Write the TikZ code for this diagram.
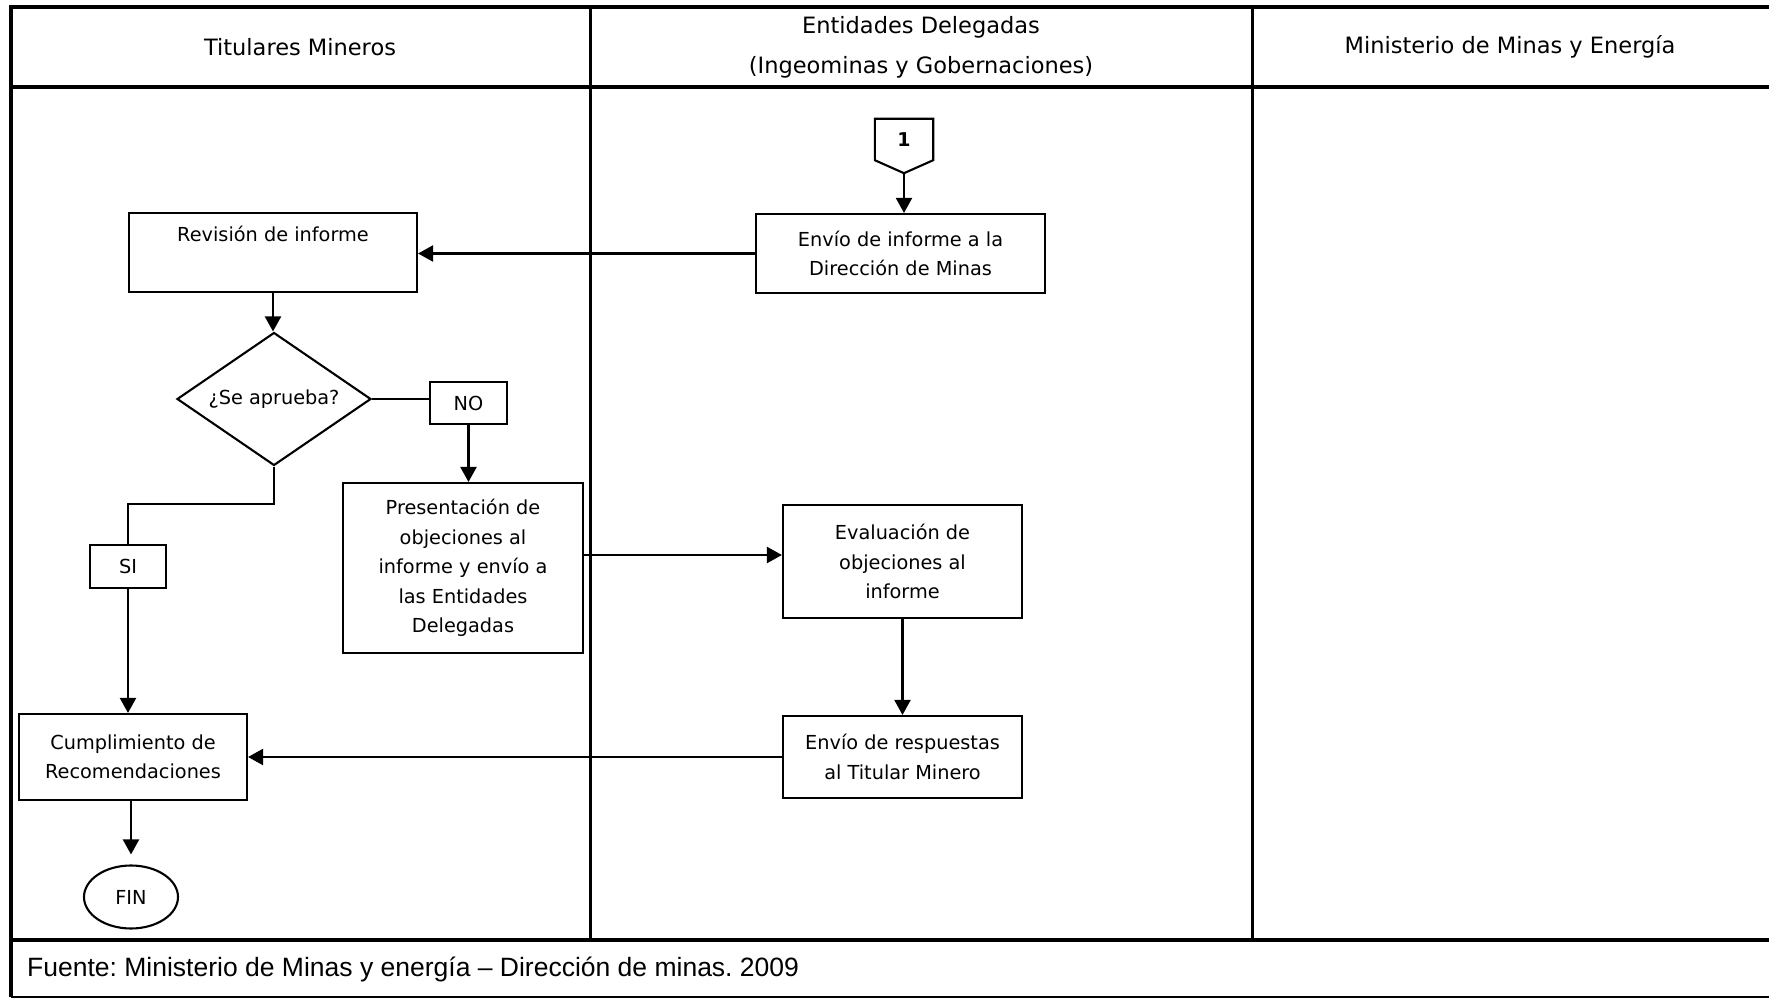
\documentclass[tikz,border=0pt]{standalone}
\usepackage{fontspec}
\setmainfont{DejaVu Sans}
\newfontfamily\footfont{Liberation Sans}
\usetikzlibrary{shapes.geometric,arrows.meta,calc}
\frenchspacing

\begin{document}
\begin{tikzpicture}[x=1pt,y=-1pt,
  outer/.style={line width=3.5pt},
  thinedge/.style={line width=2pt},
  lanetitle/.style={inner sep=0pt,align=center,font=\fontsize{22.5}{40}\selectfont},
  proc/.style={draw,line width=2.1pt,inner sep=0pt,align=center,font=\fontsize{19.3}{29.5}\selectfont},
  decision/.style={proc,diamond},
  terminal/.style={proc,ellipse},
  arr/.style={line width=2.1pt,-{Triangle[length=15pt,width=16pt]}},
  link/.style={line width=2.1pt}]
\useasboundingbox (0,0) rectangle (1769,1000);

% swimlane frame
\draw[outer] (1769,7) -- (11,7) -- (11,997);
\draw[outer] (11,87) -- (1769,87);
\draw[outer] (11,940) -- (1769,940);
\draw[thinedge] (11,997) -- (1769,997);
\draw[line width=3pt] (590,7) -- (590,940);
\draw[line width=3pt] (1252,7) -- (1252,940);

% lane titles
\node[lanetitle] (h1) at (300,47) {Titulares Mineros};
\node[lanetitle] (h2) at (921,47) {Entidades Delegadas\\(Ingeominas y Gobernaciones)};
\node[lanetitle] (h3) at (1510,47) {Ministerio de Minas y Energía};

% off-page connector
\node[inner sep=0pt,minimum width=58pt,minimum height=41pt,font=\fontsize{19}{24}\bfseries] (c1) at (904,139.5) {1};
\coordinate (c1tip) at ($(c1.south)+(0,13)$);
\draw[link,line join=miter] (c1.north west) -- (c1.north east) -- (c1.south east) -- (c1tip) -- (c1.south west) -- cycle;

% process steps
\node[proc,minimum width=289pt,minimum height=79pt] (envio) at (900.5,253.5) {Envío de informe a la\\Dirección de Minas};
\node[proc,minimum width=288pt,minimum height=79pt] (rev) at (273,252.5) {Revisión de informe\\\strut};
\node[decision,minimum width=194pt,minimum height=133pt,aspect=1.46] (dia) at (274,399) {\raisebox{-5pt}{¿Se aprueba?}};
\node[proc,minimum width=77pt,minimum height=42pt] (no) at (468.5,403) {NO};
\node[proc,minimum width=240pt,minimum height=170pt] (pres) at (463,568) {Presentación de\\objeciones al\\informe y envío a\\las Entidades\\Delegadas};
\node[proc,minimum width=76pt,minimum height=43pt] (si) at (128,566.5) {SI};
\node[proc,minimum width=239pt,minimum height=113pt] (ev) at (902.5,561.5) {Evaluación de\\objeciones al\\informe};
\node[proc,minimum width=239pt,minimum height=82pt] (resp) at (902.5,757) {Envío de respuestas\\al Titular Minero};
\node[proc,minimum width=228pt,minimum height=86pt] (cump) at (133,757) {Cumplimiento de\\Recomendaciones};
\node[terminal,minimum width=94pt,minimum height=63pt] (fin) at (131,897) {FIN};

% connectors
\draw[arr] (c1tip) -- (c1tip |- envio.north);
\draw[arr] (envio.west) -- (envio.west -| rev.east);
\draw[arr] (rev.south) -- (rev.south |- dia.north);
\draw[link] (dia.east) -- (dia.east -| no.west);
\draw[arr] (no.south) -- (no.south |- pres.north);
\draw[link] (dia.south) -- ++(0,37) -| (si.north);
\draw[arr] (si.south) -- (si.south |- cump.north);
\coordinate (pe) at ([yshift=13pt]pres.east);
\draw[arr] (pe) -- (pe -| ev.west);
\draw[arr] (ev.south) -- (resp.north);
\draw[arr] (resp.west) -- (resp.west -| cump.east);
\draw[arr,shorten >=10pt] (cump.south -| fin.north) -- (fin.north);

% source line
\node[anchor=west,inner sep=0pt,font=\footfont\fontsize{26.5}{30}\selectfont] (src) at (27,969) {Fuente: Ministerio de Minas y energía – Dirección de minas. 2009};
\end{tikzpicture}
\end{document}
